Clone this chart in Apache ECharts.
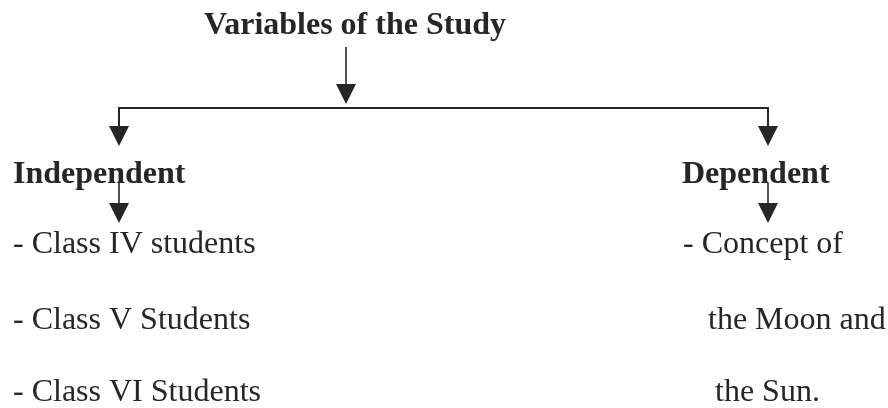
<!DOCTYPE html>
<html>
<head>
<meta charset="utf-8">
<style>html,body{margin:0;padding:0;background:#fff;}#chart{width:888px;height:408px;}</style>
<script src="https://cdn.jsdelivr.net/npm/echarts@6/dist/echarts.min.js"></script>
</head>
<body>
<div id="chart"></div>
<script>
// ---- content ----
const titleText = 'Variables of the Study';
const branchLabels = ['Independent', 'Dependent'];
const independentItems = ['- Class IV students', '- Class V Students', '- Class VI Students'];
const dependentItems = ['- Concept of', 'the Moon and', 'the Sun.'];

// ---- layout (pixels) ----
const INK = '#262626';
const FONT = '"Liberation Serif", "Times New Roman", serif';
const FS = 32;
const titlePos = [204, 26];
const stemX = 346;
const busY = 108;
const branchX = [119, 768];
const branchTextX = [13, 682];
const branchTextY = 175;
const rowY = [245, 321, 393];
const depItemX = [683, 708, 715];

function arrow(x, y0, tipY) {
  const headH = 20, headW = 10;
  return [
    { type: 'line', shape: { x1: x, y1: y0, x2: x, y2: tipY - headH + 2 },
      style: { stroke: INK, lineWidth: 1.6 } },
    { type: 'polygon', shape: { points: [[x - headW, tipY - headH], [x + headW, tipY - headH], [x, tipY]] },
      style: { fill: INK } }
  ];
}
function text(str, x, y, bold) {
  return { type: 'text', x: x, y: y,
    style: { text: str, fontFamily: FONT, fontSize: FS, fontWeight: bold ? 'bold' : 'normal',
      fill: INK, align: 'left', verticalAlign: 'middle' } };
}

const els = [];
els.push(text(titleText, titlePos[0], titlePos[1], true));
els.push(...arrow(stemX, 47, 104));
els.push({ type: 'polyline', shape: { points: [[branchX[0], busY + 20], [branchX[0], busY], [branchX[1], busY], [branchX[1], busY + 20]] },
  style: { stroke: INK, lineWidth: 2, fill: null } });
branchX.forEach(function (bx, i) {
  els.push({ type: 'polygon', shape: { points: [[bx - 10, 126], [bx + 10, 126], [bx, 146]] }, style: { fill: INK } });
  els.push(text(branchLabels[i], branchTextX[i], branchTextY, true));
  els.push(...arrow(bx, 183, 223));
});
independentItems.forEach(function (s, i) { els.push(text(s, 13, rowY[i], false)); });
dependentItems.forEach(function (s, i) { els.push(text(s, depItemX[i], rowY[i], false)); });

const chart = echarts.init(document.getElementById('chart'), null, { renderer: 'canvas' });
chart.setOption({ backgroundColor: '#ffffff', animation: false, graphic: { elements: els } });
</script>
</body>
</html>
